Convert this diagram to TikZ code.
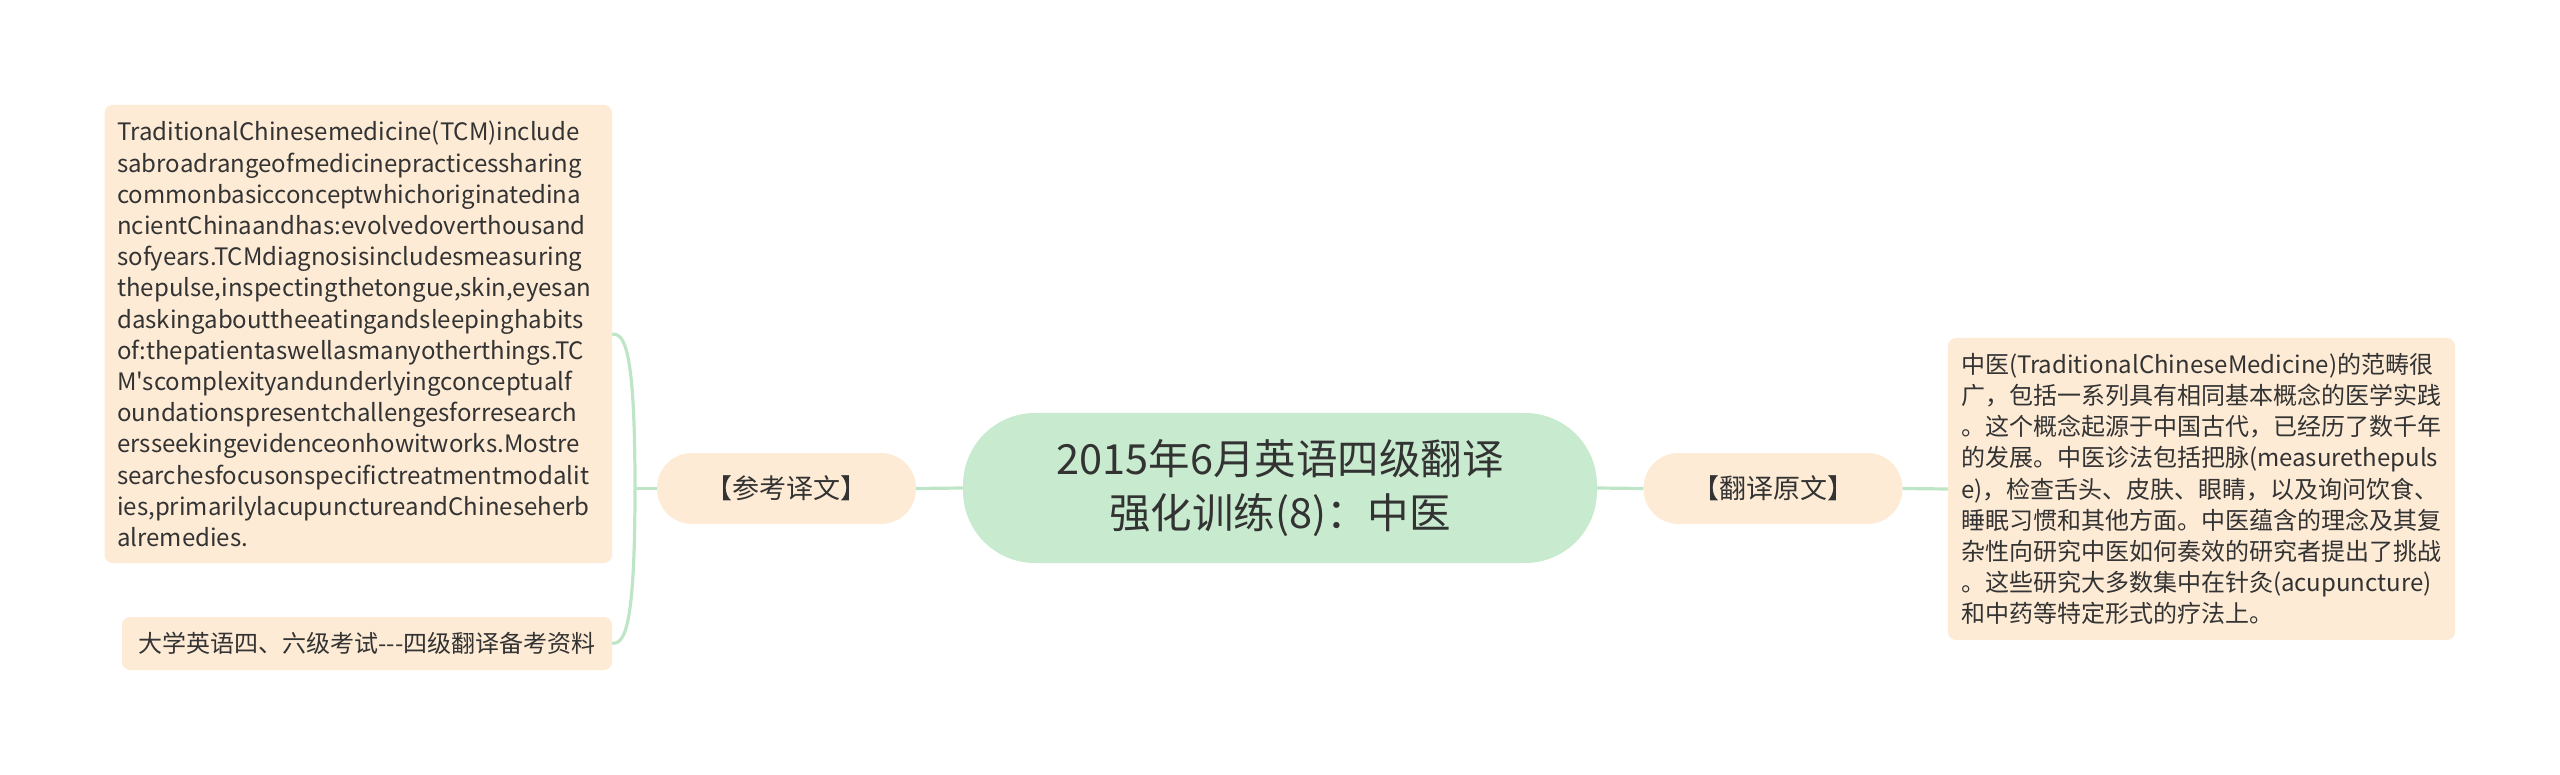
\documentclass[tikz,border=0pt]{standalone}
\usepackage{fontspec}
\setmainfont{Noto Sans CJK SC}
\newfontfamily\nf{Noto Sans CJK SC}
\definecolor{peach}{HTML}{FDEBD6}
\definecolor{mint}{HTML}{C8EBCF}
\definecolor{linec}{HTML}{BEE6C6}
\definecolor{ink}{HTML}{333333}
\begin{document}
\begin{tikzpicture}[x=1pt,y=-1pt,
  conn/.style={draw=linec, line width=3.2pt},
  leaf/.style={fill=peach, rounded corners=8pt, inner sep=0pt, text=ink, align=left, font=\nf\fontsize{24}{31.2}\selectfont},
  pill/.style={fill=peach, rounded corners=35pt, minimum width=259pt, minimum height=71pt, inner sep=0pt, text=ink, font=\nf\fontsize{27}{30}\selectfont},
  root/.style={fill=mint, rounded corners=72pt, minimum width=634pt, minimum height=150pt, inner sep=0pt, text=ink, align=center, font=\nf\fontsize{41.5}{54}\selectfont}
  ]
\useasboundingbox (0,0) rectangle (2560,775);

\node[root] (c) at (1280,488) {2015年6月英语四级翻译\\强化训练(8)：中医};
\node[pill] (rl) at (786.5,488.5) {【参考译文】};
\node[pill] (rr) at (1773,488.5) {【翻译原文】};

\node[leaf, minimum width=507.5pt, minimum height=458pt, text width=482pt] (tcm) at (358.25,334) {TraditionalChinesemedicine(TCM)include\\
sabroadrangeofmedicinepracticessharing\\
commonbasicconceptwhichoriginatedina\\
ncientChinaandhas:evolvedoverthousand\\
sofyears.TCMdiagnosisincludesmeasuring\\
thepulse,inspectingthetongue,skin,eyesan\\
daskingabouttheeatingandsleepinghabits\\
of:thepatientaswellasmanyotherthings.TC\\
M'scomplexityandunderlyingconceptualf\\
oundationspresentchallengesforresearch\\
ersseekingevidenceonhowitworks.Mostre\\
searchesfocusonspecifictreatmentmodalit\\
ies,primarilylacupunctureandChineseherb\\
alremedies.};

\node[leaf, minimum width=490pt, minimum height=53pt] (cet) at (367,643.5) {大学英语四、六级考试---四级翻译备考资料};

\node[leaf, minimum width=507pt, minimum height=302pt, text width=481pt] (cn) at (2201.5,489) {中医(TraditionalChineseMedicine)的范畴很\\
广，包括一系列具有相同基本概念的医学实践\\
。这个概念起源于中国古代，已经历了数千年\\
的发展。中医诊法包括把脉(measurethepuls\\
e)，检查舌头、皮肤、眼睛，以及询问饮食、\\
睡眠习惯和其他方面。中医蕴含的理念及其复\\
杂性向研究中医如何奏效的研究者提出了挑战\\
。这些研究大多数集中在针灸(acupuncture)\\
和中药等特定形式的疗法上。};

\coordinate (j) at (635,488.5);
\draw[conn] (c.west) -- (rl.east);
\draw[conn] (rl.west) -- (j);
\draw[conn] (j) .. controls (635,345) and (624,334) .. (tcm.east);
\draw[conn] (j) .. controls (635,632) and (624,643.5) .. (cet.east);
\draw[conn] (c.east) -- (rr.west);
\draw[conn] (rr.east) -- (cn.west);
\end{tikzpicture}
\end{document}
